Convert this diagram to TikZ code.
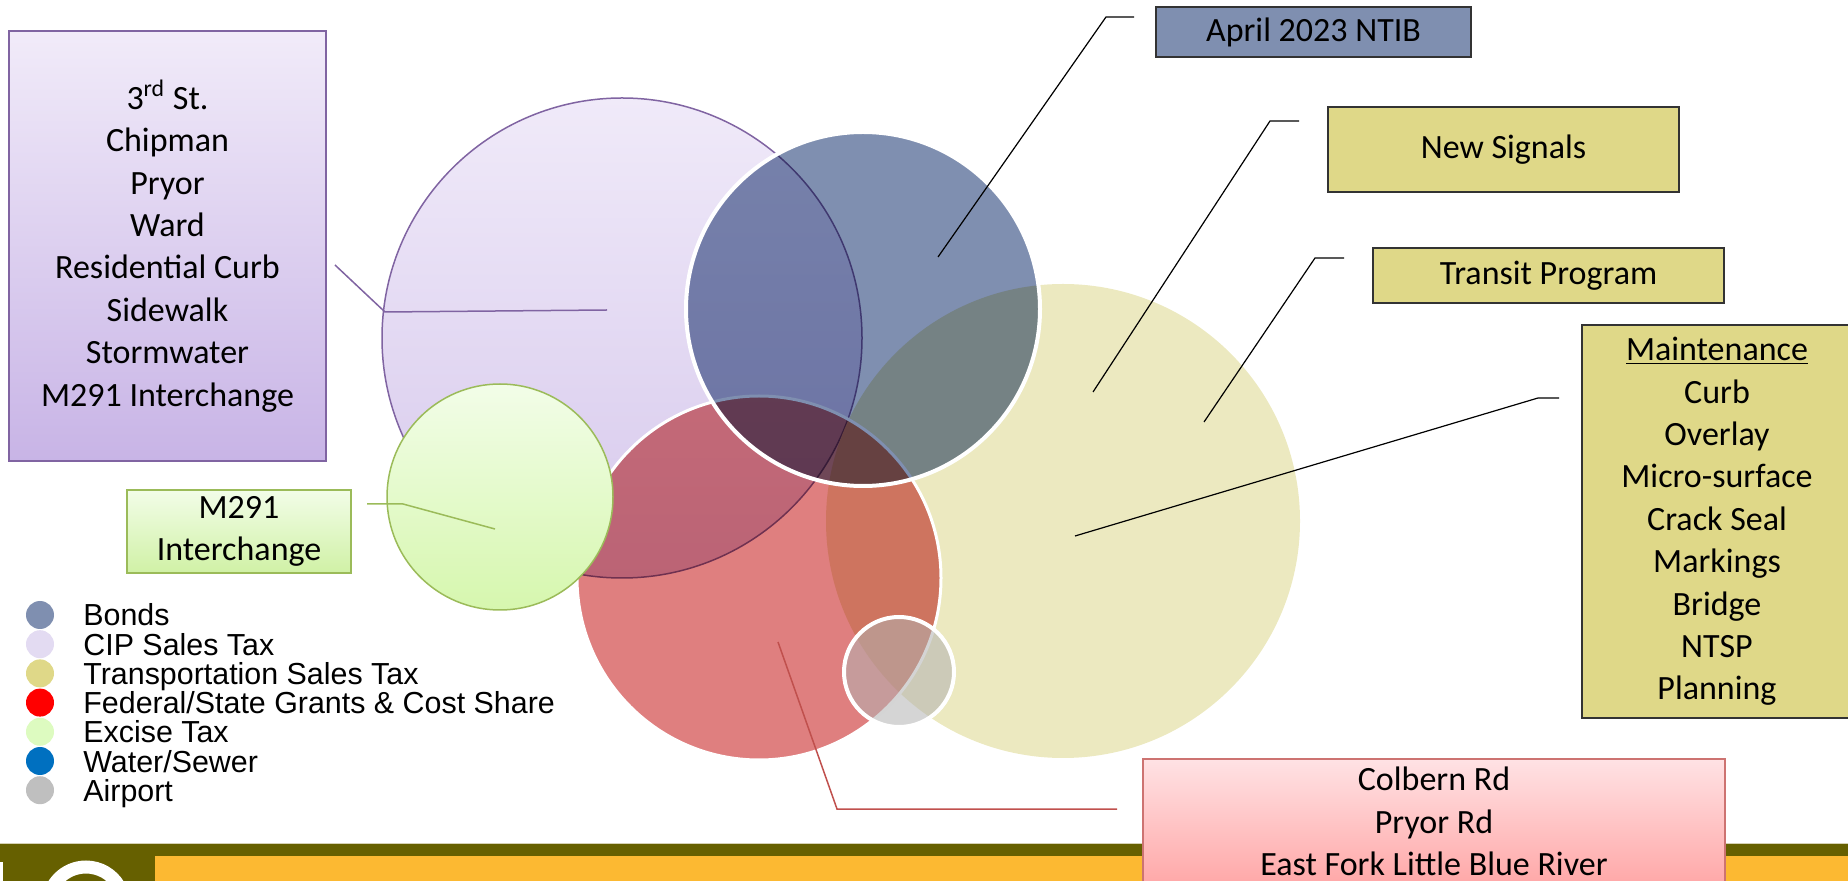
\documentclass[tikz,border=0pt]{standalone}
\usepackage{fontspec}
\setmainfont{Carlito}
\newfontfamily\keyfont{Liberation Sans}
\usepackage{tikz}
\definecolor{bondblue}{RGB}{127,143,176}
\definecolor{ciplav}{RGB}{227,219,242}
\definecolor{cipedge}{RGB}{128,100,162}
\definecolor{cipdisctop}{RGB}{240,234,249}
\definecolor{cipdiscbot}{RGB}{214,200,236}
\definecolor{cipboxtop}{RGB}{241,235,249}
\definecolor{cipboxbot}{RGB}{200,180,230}
\definecolor{transkhaki}{RGB}{223,216,136}
\definecolor{transpale}{RGB}{236,233,192}
\definecolor{grantred}{RGB}{223,127,127}
\definecolor{grantedge}{RGB}{192,80,77}
\definecolor{grantboxtop}{RGB}{255,226,228}
\definecolor{grantboxbot}{RGB}{255,168,168}
\definecolor{excisegreen}{RGB}{221,251,192}
\definecolor{exciseedge}{RGB}{155,187,89}
\definecolor{excisetop}{RGB}{242,253,232}
\definecolor{excisebot}{RGB}{214,247,174}
\definecolor{waterblue}{RGB}{0,112,192}
\definecolor{airgray}{RGB}{191,191,191}
\definecolor{bandolive}{RGB}{102,96,0}
\definecolor{bandgold}{RGB}{252,185,50}
\definecolor{bandline}{RGB}{214,210,180}
\tikzset{
  tagbox/.style={draw=black!80, line width=0.7pt, inner sep=0pt, align=center,
    font=\fontsize{17}{21.2}\selectfont},
  leader/.style={line width=0.6pt},
  keydot/.style={circle, inner sep=0pt, minimum size=14pt},
  keytext/.style={anchor=base west, inner sep=0pt,
    font=\keyfont\fontsize{15.2}{15}\selectfont},
  rim/.style={draw=white, line width=2pt},
}

\begin{document}
\begin{tikzpicture}[x=0.5pt, y=-0.5pt]
  \useasboundingbox (0,0) rectangle (1848,881);

  %% footer band
  \fill[bandolive] (0,843) rectangle (1848,856);
  \fill[bandgold] (155,856) rectangle (1848,881);
  \fill[bandolive] (0,843) rectangle (155,881);
  \draw[bandline, line width=0.5pt] (0,843) -- (1848,843);
  \fill[white] (0,862) rectangle (3,881);
  \draw[white, line width=6.5pt] (86,905) ++(180:38) arc[start angle=180, end angle=330, radius=38];

  %% funding circles
  \coordinate (cipc) at (622,338);
  \coordinate (transc) at (1063,521);
  \coordinate (grantc) at (759,578);
  \coordinate (bondc) at (863,309);
  \coordinate (airc) at (899,672);
  \coordinate (excisec) at (500,497);

  \shade[top color=cipdisctop, bottom color=cipdiscbot] (cipc) circle[radius=240];
  \draw[cipedge, line width=0.75pt] (cipc) circle[radius=240];

  \fill[transpale] (transc) circle[radius=237];

  \begin{scope}[blend mode=multiply]
    \fill[grantred] (grantc) circle[radius=182];
  \end{scope}
  \draw[rim, line width=1.5pt] (grantc) circle[radius=182];

  \begin{scope}[blend mode=multiply]
    \fill[bondblue] (bondc) circle[radius=177];
  \end{scope}
  \draw[rim] (bondc) circle[radius=177];

  \fill[black!30, opacity=0.55] (airc) circle[radius=55];
  \draw[rim] (airc) circle[radius=55];

  \shade[top color=excisetop, bottom color=excisebot] (excisec) circle[radius=113];
  \draw[exciseedge, line width=0.75pt] (excisec) circle[radius=113];

  %% leaders
  \coordinate (cippin) at (607,310);
  \coordinate (cipknee) at (385,312);
  \coordinate (cipend) at (335,265);
  \draw[leader, cipedge, line width=0.75pt] (cippin) -- (cipknee) -- (cipend);

  \coordinate (m291pin) at (495,529);
  \coordinate (m291knee) at (403,504);
  \coordinate (m291end) at (367,504);
  \draw[leader, exciseedge, line width=0.75pt] (m291pin) -- (m291knee) -- (m291end);

  \coordinate (ntibpin) at (938,257);
  \coordinate (ntibknee) at (1106,17);
  \coordinate (ntibend) at (1134,17);
  \draw[leader] (ntibpin) -- (ntibknee) -- (ntibend);

  \coordinate (signalpin) at (1093,392);
  \coordinate (signalknee) at (1270,121);
  \coordinate (signalend) at (1299,121);
  \draw[leader] (signalpin) -- (signalknee) -- (signalend);

  \coordinate (transitpin) at (1204,422);
  \coordinate (transitknee) at (1315,258);
  \coordinate (transitend) at (1344,258);
  \draw[leader] (transitpin) -- (transitknee) -- (transitend);

  \coordinate (maintpin) at (1075,536);
  \coordinate (maintknee) at (1538,398);
  \coordinate (maintend) at (1559,398);
  \draw[leader] (maintpin) -- (maintknee) -- (maintend);

  \coordinate (colbernpin) at (778,642);
  \coordinate (colbernknee) at (837,809);
  \coordinate (colbernend) at (1117,809);
  \draw[leader, grantedge, line width=0.75pt] (colbernpin) -- (colbernknee) -- (colbernend);

  %% project boxes
  \node[tagbox, draw=cipedge, top color=cipboxtop, bottom color=cipboxbot,
    minimum width=158.5pt, minimum height=215pt] (cip) at (167.5,246)
    {3\textsuperscript{rd} St.\\Chipman\\Pryor\\Ward\\Residential Curb\\Sidewalk\\Stormwater\\M291 Interchange};
  \node[tagbox, fill=bondblue, minimum width=157.5pt, minimum height=25pt]
    (ntib) at (1313.5,32) {April 2023 NTIB};
  \node[tagbox, fill=transkhaki, minimum width=175.5pt, minimum height=42.5pt]
    (signals) at (1503.5,149.5) {New Signals};
  \node[tagbox, fill=transkhaki, minimum width=175.5pt, minimum height=27.5pt]
    (transit) at (1548.5,275.5) {Transit Program};
  \node[tagbox, fill=transkhaki, minimum width=135pt, minimum height=196.5pt]
    (maint) at (1717,521.5)
    {\underline{Maintenance}\\Curb\\Overlay\\Micro-surface\\Crack Seal\\Markings\\Bridge\\NTSP\\Planning};
  \node[tagbox, draw=exciseedge, top color=excisetop, bottom color=excisebot!90!exciseedge,
    minimum width=112pt, minimum height=41.5pt] (m291) at (239,531.5) {M291\\Interchange};
  \node[tagbox, draw=grantedge!80, top color=grantboxtop, bottom color=grantboxbot,
    minimum width=291pt, minimum height=62.5pt] (colbern) at (1434,821.5)
    {Colbern Rd\\Pryor Rd\\East Fork Little Blue River};

  %% legend
  \foreach \n/\col/\txt in {0/bondblue/Bonds, 1/ciplav/CIP Sales Tax,
      2/transkhaki/Transportation Sales Tax, 3/red/{Federal/State Grants \& Cost Share},
      4/excisegreen/Excise Tax, 5/waterblue/{Water/Sewer}, 6/airgray/Airport}{
    \node[keydot, fill=\col] (key\n) at (40,615+29.2*\n) {};
    \node[keytext] (keytext\n) at (83,626+29.2*\n) {\txt};
  }

\end{tikzpicture}
\end{document}
